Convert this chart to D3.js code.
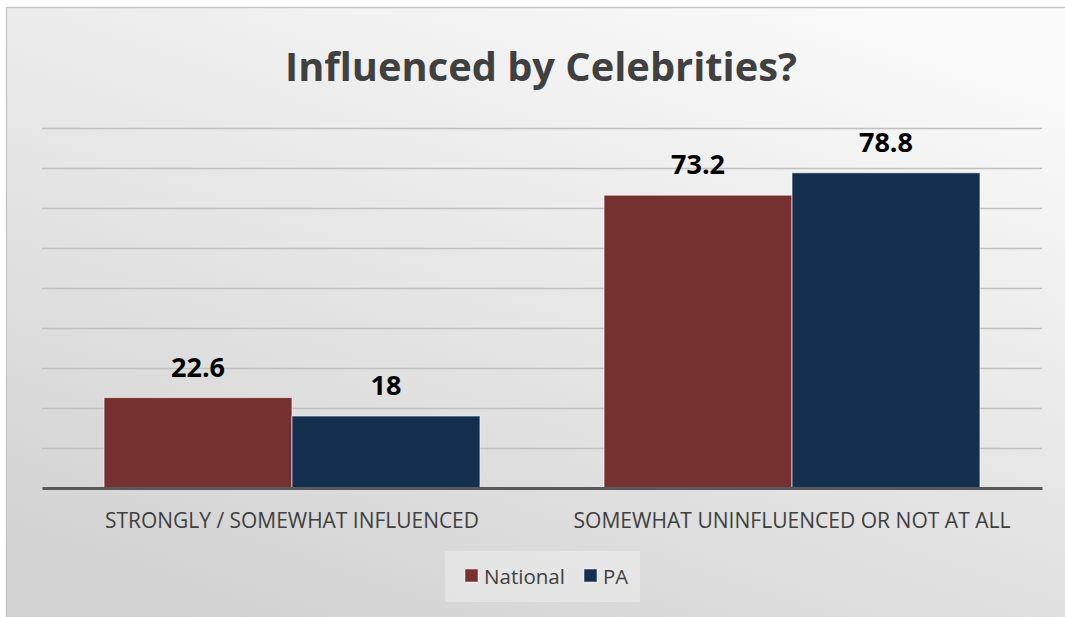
<!DOCTYPE html>
<html>
<head>
<meta charset="utf-8">
<script src="https://cdn.jsdelivr.net/npm/d3@7"></script>
<style>
  html, body { margin: 0; padding: 0; background: #ffffff; }
  svg { display: block; }
  text { font-family: "Open Sans", "Noto Sans", sans-serif; }
</style>
</head>
<body>
<svg id="chart" width="1065" height="617"></svg>
<script>
const title = "Influenced by Celebrities?";
const categories = ["STRONGLY / SOMEWHAT INFLUENCED", "SOMEWHAT UNINFLUENCED OR NOT AT ALL"];
const seriesNames = ["National", "PA"];
const nationalValues = [22.6, 73.2];
const paValues = [18, 78.8];
const valueLabels = [["22.6", "73.2"], ["18", "78.8"]];
const colors = ["#76302f", "#15304e"];
const gridTicks = [10, 20, 30, 40, 50, 60, 70, 80, 90];

(function () {
const seriesValues = [nationalValues, paValues];
const rows = categories.map((c, i) => ({
  category: c,
  values: seriesNames.map((s, j) => ({ series: s, value: seriesValues[j][i], label: valueLabels[j][i], color: colors[j] }))
}));

const svg = d3.select("#chart");
const W = 1065, H = 617;

const defs = svg.append("defs");
const grad = defs.append("linearGradient").attr("id", "bg")
  .attr("x1", "0.8").attr("y1", "0").attr("x2", "0.2").attr("y2", "1");
grad.append("stop").attr("offset", "0").attr("stop-color", "#fafafa");
grad.append("stop").attr("offset", "1").attr("stop-color", "#d2d2d2");

svg.append("rect").attr("x", 6.5).attr("y", 7.5).attr("width", W).attr("height", H)
  .attr("fill", "url(#bg)").attr("stroke", "#c9c9c9").attr("stroke-width", 1.5);

const mLeft = 42, mRight = 1042, mTop = 128, mBottom = 488;

const y = d3.scaleLinear().domain([0, 90]).range([mBottom, mTop]);
const x0 = d3.scaleBand().domain(categories).range([mLeft, mRight]).paddingInner(0).paddingOuter(0);
const x1 = d3.scaleBand().domain(seriesNames).range([0, x0.bandwidth()]).paddingInner(0).paddingOuter(0.33);

const gridAxis = d3.axisLeft(y).tickValues(gridTicks).tickSize(-(mRight - mLeft)).tickFormat("");
const g = svg.append("g").attr("transform", `translate(${mLeft},0)`).call(gridAxis);
g.select(".domain").remove();
g.selectAll(".tick line").attr("stroke", "#c0c0c0").attr("stroke-width", 1.6);

const groups = svg.append("g").selectAll("g").data(rows).join("g")
  .attr("transform", d => `translate(${x0(d.category)},0)`);
groups.selectAll("rect").data(d => d.values).join("rect")
  .attr("x", d => x1(d.series))
  .attr("y", d => y(d.value))
  .attr("width", x1.bandwidth())
  .attr("height", d => y(0) - y(d.value))
  .attr("fill", d => d.color)
  .attr("stroke", "rgba(255,255,255,0.6)")
  .attr("stroke-width", 1);

groups.selectAll("text").data(d => d.values).join("text")
  .attr("x", d => x1(d.series) + x1.bandwidth() / 2)
  .attr("y", d => y(d.value) - 21)
  .attr("text-anchor", "middle")
  .attr("font-weight", "bold")
  .attr("font-size", 27)
  .attr("fill", "#000")
  .text(d => d.label);

const xAxis = d3.axisBottom(x0).tickSize(0).tickPadding(0);
const xa = svg.append("g").attr("transform", `translate(0,${mBottom})`).call(xAxis);
xa.select(".domain").attr("stroke", "#595959").attr("stroke-width", 3);
xa.selectAll(".tick text")
  .attr("dy", 0).attr("y", 40)
  .attr("fill", "#404040")
  .attr("font-size", 19)
  .style("font-family", "'Open Sans', sans-serif");

function fit(sel, target) {
  sel.each(function () {
    const w = this.getComputedTextLength();
    const fs = parseFloat(d3.select(this).attr("font-size"));
    d3.select(this).attr("font-size", (fs * target / w).toFixed(2));
  });
}
fit(xa.selectAll(".tick text").filter((d, i) => i === 0), 374);
fit(xa.selectAll(".tick text").filter((d, i) => i === 1), 437);

const t = svg.append("text").attr("x", 541).attr("y", 81)
  .attr("text-anchor", "middle").attr("font-weight", "bold")
  .attr("font-size", 40).attr("fill", "#404040").text(title);
fit(t, 512);

const lg = svg.append("g");
lg.append("rect").attr("x", 445).attr("y", 551).attr("width", 195).attr("height", 51)
  .attr("fill", "rgba(255,255,255,0.3)");
const legendX = [465, 584];
const items = lg.selectAll("g").data(seriesNames).join("g")
  .attr("transform", (d, i) => `translate(${legendX[i]},569)`);
items.append("rect").attr("width", 13).attr("height", 13)
  .attr("fill", (d, i) => colors[i]).attr("stroke", "rgba(255,255,255,0.5)").attr("stroke-width", 1);
items.append("text").attr("x", 19).attr("y", 14.5)
  .attr("font-size", 19).attr("fill", "#404040").text(d => d);
fit(items.filter((d, i) => i === 0).select("text"), 81);
fit(items.filter((d, i) => i === 1).select("text"), 25);
})();
</script>
</body>
</html>
